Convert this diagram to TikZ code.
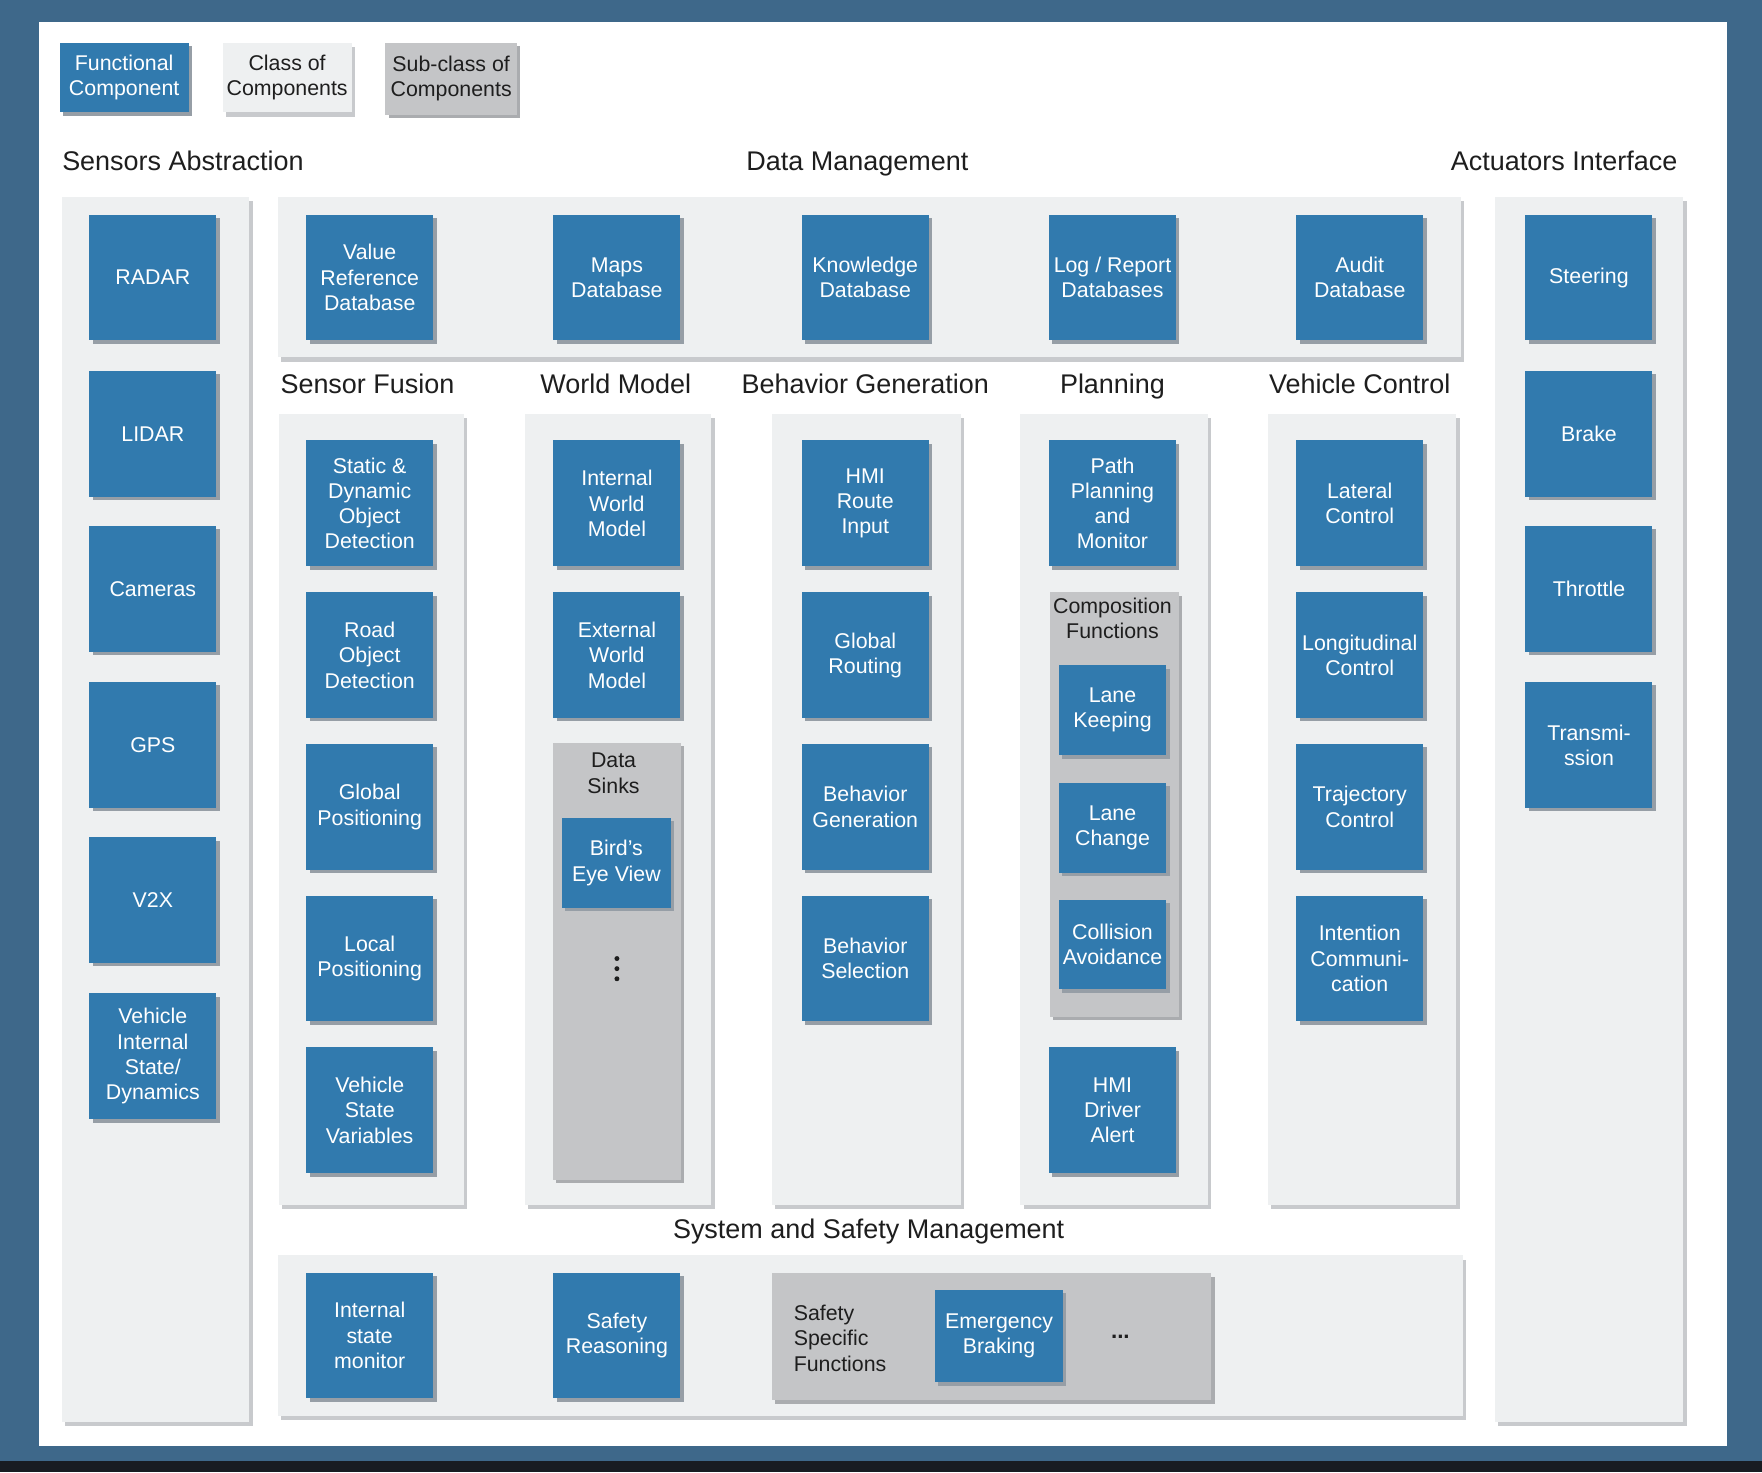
\documentclass[tikz,border=0pt]{standalone}
\usepackage{fontspec}
\setmainfont{Liberation Sans}
\usetikzlibrary{shadows,fit}
\definecolor{bgblue}{RGB}{62,104,138}
\definecolor{bgdark}{RGB}{24,28,34}
\definecolor{fcblue}{RGB}{49,122,174}
\definecolor{fcshadow}{RGB}{150,158,166}
\definecolor{clsfill}{RGB}{238,240,241}
\definecolor{clsshadow}{RGB}{200,202,205}
\definecolor{subfill}{RGB}{196,197,199}
\definecolor{subshadow}{RGB}{170,172,175}
\definecolor{txt}{RGB}{30,30,30}
\begin{document}
\begin{tikzpicture}[x=0.5pt,y=-0.5pt,
  boxfont/.style={font=\fontsize{9.5}{11.25}\selectfont},
  fcbox/.style={boxfont,fill=fcblue,text=white,align=center,inner sep=1pt,
    minimum width=56.5pt,minimum height=56pt,
    drop shadow={shadow xshift=1.5pt,shadow yshift=-1.5pt,fill=fcshadow,opacity=1}},
  smallfc/.style={fcbox,minimum width=48pt,minimum height=40pt},
  clsbox/.style={fill=clsfill,inner sep=0pt,
    drop shadow={shadow xshift=1.5pt,shadow yshift=-2pt,fill=clsshadow,opacity=1}},
  subbox/.style={fill=subfill,inner sep=0pt,
    drop shadow={shadow xshift=1.5pt,shadow yshift=-1.5pt,fill=subshadow,opacity=1}},
  head/.style={font=\fontsize{12}{14}\selectfont,text=txt,inner sep=0pt},
  subtext/.style={boxfont,text=txt,align=center,inner sep=0pt},
  dotmark/.style={circle,fill=txt,inner sep=0pt,minimum size=2.2pt}
]
\useasboundingbox (0,0) rectangle (1568,1310);
% background
\fill[bgblue] (0,0) rectangle (1568,1310);
\fill[bgdark] (0,1300) rectangle (1568,1310);
\fill[white] (35,20) rectangle (1537,1287);

% legend
\node[fcbox,minimum width=57.5pt,minimum height=31pt] (lgfc) at (110.5,69) {Functional\\Component};
\node[clsbox,boxfont,text=txt,align=center,minimum width=57.5pt,minimum height=31pt] (lgcls) at (255.5,69) {Class of\\Components};
\node[subbox,boxfont,text=txt,align=center,minimum width=58.5pt,minimum height=32pt] (lgsub) at (401.5,70) {Sub-class of\\Components};

% headers
\node[head,anchor=base west] (hsa) at (55,151.5) {Sensors Abstraction};
\node[head,anchor=base] (hdm) at (763,151.5) {Data Management};
\node[head,anchor=base east] (hai) at (1493,151.5) {Actuators Interface};
\node[head,anchor=base] (hsf) at (327,350.5) {Sensor Fusion};
\node[head,anchor=base] (hwm) at (548,350.5) {World Model};
\node[head,anchor=base] (hbg) at (770,350.5) {Behavior Generation};
\node[head,anchor=base] (hpl) at (990,350.5) {Planning};
\node[head,anchor=base] (hvc) at (1210,350.5) {Vehicle Control};
\node[head,anchor=base] (hss) at (773,1102.5) {System and Safety Management};

% class panels
\node[clsbox,fit={(55,175) (222,1265)}] (psa) {};
\node[clsbox,fit={(247,175) (1300,318)}] (pdm) {};
\node[clsbox,fit={(1330,175) (1498,1265)}] (pai) {};
\node[clsbox,fit={(248,368) (413,1072)}] (psf) {};
\node[clsbox,fit={(467,368) (633,1072)}] (pwm) {};
\node[clsbox,fit={(687,368) (855,1072)}] (pbg) {};
\node[clsbox,fit={(908,368) (1075,1072)}] (ppl) {};
\node[clsbox,fit={(1128,368) (1296,1072)}] (pvc) {};
\node[clsbox,fit={(247,1117) (1302,1260)}] (pss) {};

% sensors abstraction
\node[fcbox] (radar) at (136,247) {RADAR};
\node[fcbox] (lidar) at (136,386) {LIDAR};
\node[fcbox] (cam) at (136,524) {Cameras};
\node[fcbox] (gps) at (136,663) {GPS};
\node[fcbox] (vtx) at (136,801) {V2X};
\node[fcbox] (vis) at (136,940) {Vehicle\\Internal\\State/\\Dynamics};

% data management
\node[fcbox] (vrd) at (329,247) {Value\\Reference\\Database};
\node[fcbox] (mdb) at (549,247) {Maps\\Database};
\node[fcbox] (kdb) at (770,247) {Knowledge\\Database};
\node[fcbox] (ldb) at (990,247) {Log / Report\\Databases};
\node[fcbox] (adb) at (1210,247) {Audit\\Database};

% actuators
\node[fcbox] (steer) at (1414,247) {Steering};
\node[fcbox] (brake) at (1414,386) {Brake};
\node[fcbox] (thr) at (1414,524) {Throttle};
\node[fcbox] (trans) at (1414,663) {Transmi-\\ssion};

% sensor fusion
\node[fcbox] (sdod) at (329,448) {Static \&\\Dynamic\\Object\\Detection};
\node[fcbox] (rod) at (329,583) {Road\\Object\\Detection};
\node[fcbox] (gpos) at (329,718) {Global\\Positioning};
\node[fcbox] (lpos) at (329,853) {Local\\Positioning};
\node[fcbox] (vsv) at (329,988) {Vehicle\\State\\Variables};

% world model
\node[fcbox] (iwm) at (549,448) {Internal\\World\\Model};
\node[fcbox] (ewm) at (549,583) {External\\World\\Model};
\node[subbox,fit={(492,661) (606,1050)}] (dsink) {};
\node[subtext] (dsinkt) at (546,688) {Data\\Sinks};
\node[smallfc,minimum width=48.5pt] (bev) at (548.5,768) {Bird's\\Eye View};
\node[dotmark] (vd1) at (549,853) {};
\node[dotmark] (vd2) at (549,862) {};
\node[dotmark] (vd3) at (549,871) {};

% behavior generation
\node[fcbox] (hmir) at (770,448) {HMI\\Route\\Input};
\node[fcbox] (grout) at (770,583) {Global\\Routing};
\node[fcbox] (bgen) at (770,718) {Behavior\\Generation};
\node[fcbox] (bsel) at (770,853) {Behavior\\Selection};

% planning
\node[fcbox] (ppm) at (990,448) {Path\\Planning\\and\\Monitor};
\node[subbox,fit={(934,527) (1049,905)}] (comp) {};
\node[subtext] (compt) at (990,550) {Composition\\Functions};
\node[smallfc] (lkeep) at (990,632) {Lane\\Keeping};
\node[smallfc] (lchg) at (990,736.5) {Lane\\Change};
\node[smallfc] (colav) at (990,840.5) {Collision\\Avoidance};
\node[fcbox] (hmid) at (990,988) {HMI\\Driver\\Alert};

% vehicle control
\node[fcbox] (latc) at (1210,448) {Lateral\\Control};
\node[fcbox] (lonc) at (1210,583) {Longitudinal\\Control};
\node[fcbox] (trajc) at (1210,718) {Trajectory\\Control};
\node[fcbox] (icom) at (1210,853) {Intention\\Communi-\\cation};

% system and safety management
\node[fcbox] (ism) at (329,1188.5) {Internal\\state\\monitor};
\node[fcbox] (sreas) at (549,1188.5) {Safety\\Reasoning};
\node[subbox,fit={(687,1133) (1078,1246)}] (ssf) {};
\node[boxfont,text=txt,align=left,anchor=west,inner sep=0pt] (ssft) at (706,1191) {Safety\\Specific\\Functions};
\node[fcbox,minimum width=57pt,minimum height=41pt] (ebrk) at (889,1189) {Emergency\\Braking};
\node[text=txt,inner sep=0pt,font=\bfseries\fontsize{10}{12}\selectfont] (sdots) at (997,1190) {...};
\end{tikzpicture}
\end{document}
